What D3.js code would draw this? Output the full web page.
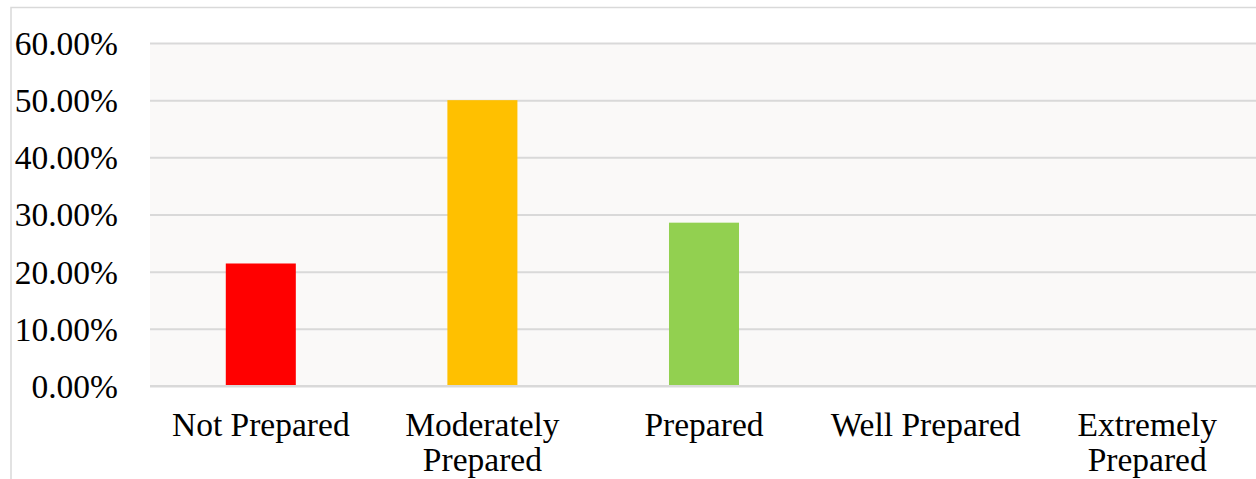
<!DOCTYPE html>
<html>
<head>
<meta charset="utf-8">
<script src="https://cdn.jsdelivr.net/npm/d3@7"></script>
<style>
  html, body { margin: 0; padding: 0; background: #fff; overflow: hidden; }
  svg { display: block; }
  text { font-family: "Liberation Serif", "DejaVu Serif", serif; fill: #000; }
</style>
</head>
<body>
<svg id="chart" width="1256" height="479"></svg>
<script>
// Survey response shares by preparedness level
const categories = ["Not Prepared", "Moderately Prepared", "Prepared", "Well Prepared", "Extremely Prepared"];
const labelLines = [["Not Prepared"], ["Moderately", "Prepared"], ["Prepared"], ["Well Prepared"], ["Extremely", "Prepared"]];
const shares = [0.2143, 0.5, 0.2857, 0, 0];
const barColors = ["#ff0000", "#ffc000", "#92d050", "#5b9bd5", "#70ad47"];
const yTicks = [0, 0.1, 0.2, 0.3, 0.4, 0.5, 0.6];

const svg = d3.select("#chart");
const plot = { left: 150, right: 1258, top: 43, bottom: 386 };
const fontSize = "33.5px";

// Chart area frame (extends past the visible window on right and bottom)
svg.append("rect")
  .attr("x", 11).attr("y", 7.5)
  .attr("width", 1400).attr("height", 600)
  .attr("fill", "#ffffff")
  .attr("stroke", "#d9d9d9").attr("stroke-width", 1.5);

const x = d3.scaleBand()
  .domain(categories)
  .range([plot.left, plot.right])
  .paddingInner(0.684)
  .paddingOuter(0.342);

const y = d3.scaleLinear()
  .domain([0, 0.6])
  .range([plot.bottom, plot.top]);

// Plot area background
svg.append("rect")
  .attr("x", plot.left).attr("y", plot.top)
  .attr("width", plot.right - plot.left).attr("height", plot.bottom - plot.top)
  .attr("fill", "#faf9f8");

// Horizontal gridlines and value labels
const yAxis = d3.axisLeft(y)
  .tickValues(yTicks)
  .tickSize(-(plot.right - plot.left))
  .tickFormat(d => (d * 100).toFixed(2) + "%");

const gy = svg.append("g")
  .attr("transform", `translate(${plot.left},0)`)
  .call(yAxis);
gy.select(".domain").remove();
gy.selectAll(".tick line").attr("stroke", "#d9d9d9").attr("stroke-width", 2);
gy.selectAll(".tick text")
  .attr("x", -32)
  .attr("dy", "0.34em")
  .style("font-size", fontSize)
  .style("font-family", "\"Liberation Serif\", serif")
  .attr("fill", "#000");

// Bars
svg.append("g").selectAll("rect")
  .data(categories)
  .join("rect")
  .attr("x", d => x(d))
  .attr("width", x.bandwidth())
  .attr("y", (d, i) => y(shares[i]))
  .attr("height", (d, i) => y(0) - y(shares[i]))
  .attr("fill", (d, i) => barColors[i]);

// Baseline
svg.append("line")
  .attr("x1", plot.left).attr("x2", plot.right)
  .attr("y1", y(0)).attr("y2", y(0))
  .attr("stroke", "#d9d9d9").attr("stroke-width", 2);

// Category labels (wrapped)
const xAxis = d3.axisBottom(x).tickSize(0).tickFormat("");
const gx = svg.append("g")
  .attr("transform", `translate(0,${plot.bottom})`)
  .call(xAxis);
gx.select(".domain").remove();
gx.selectAll(".tick").each(function (d, i) {
  const t = d3.select(this).append("text")
    .attr("text-anchor", "middle")
    .style("font-size", fontSize)
    .attr("fill", "#000");
  labelLines[i].forEach((line, k) => {
    t.append("tspan").attr("x", 0).attr("y", 50 + k * 35).text(line);
  });
});
</script>
</body>
</html>
